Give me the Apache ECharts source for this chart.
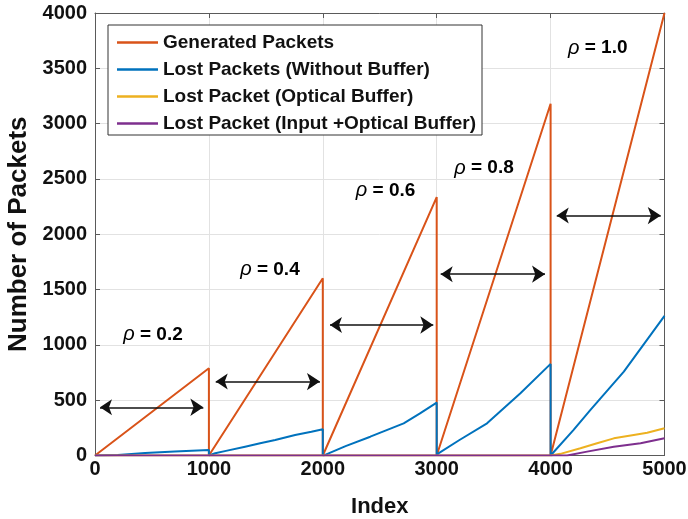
<!DOCTYPE html>
<html>
<head>
<meta charset="utf-8">
<script src="https://cdn.jsdelivr.net/npm/echarts@6/dist/echarts.min.js"></script>
<style>html,body{margin:0;padding:0;background:#fff}#c{width:688px;height:519px}</style>
</head>
<body>
<div id="c"></div>
<script>
// ---- data ----
const seriesNames = ['Generated Packets','Lost Packets (Without Buffer)','Lost Packet (Optical Buffer)','Lost Packet (Input +Optical Buffer)'];
const generatedX = [0,1000,1000,2000,2000,3000,3000,4000,4000,5000];
const generatedY = [0,789,0,1603,0,2336,0,3180,0,4000];
const noBufferX = [0,200,440,700,1000,1000,1055,1150,1318,1450,1582,1757,1900,2000,2000,2020,2200,2417,2710,2850,3000,3000,3015,3200,3442,3735,4000,4000,4013,4200,4350,4643,5000];
const noBufferY = [0,5,22,36,50,0,20,42,80,110,140,185,215,237,0,5,85,170,291,378,478,0,20,140,291,563,828,0,14,230,412,758,1262];
const opticalX = [0,4000,4086,4262,4408,4555,4730,4848,5000];
const opticalY = [0,0,15,65,110,155,185,205,246];
const inputOpticalX = [0,4145,4320,4555,4790,5000];
const inputOpticalY = [0,0,35,80,110,156];
const xTicks = [0,1000,2000,3000,4000,5000];
const yTicks = [0,500,1000,1500,2000,2500,3000,3500,4000];
// annotations (data units)
const arrowY = [436,668,1180,1639,2169];
const arrowStart = [44,1060,2063,3035,4054];
const arrowEnd = [951,1975,2970,3951,4967];
const rhoText = ['0.2','0.4','0.6','0.8','1.0'];
const rhoX = [509,1536,2551,3415,4414];
const rhoY = [1090,1678,2395,2598,3683];

const colors = ['#D95319','#0072BD','#EDB120','#7E2F8E'];
const font = 'Liberation Sans, Arial, sans-serif';
const zip = (xs, ys) => xs.map((x,i)=>[x, ys[i]]);

const chart = echarts.init(document.getElementById('c'));
const lineSeries = [
  [generatedX, generatedY],
  [noBufferX, noBufferY],
  [opticalX, opticalY],
  [inputOpticalX, inputOpticalY]
].map((d,i)=>({
  name: seriesNames[i], type:'line', data: zip(d[0], d[1]),
  showSymbol:false, symbol:'none', animation:false,
  lineStyle:{color:colors[i], width:2}, itemStyle:{color:colors[i]},
  z: 2 + i
}));

const axisLineStyle = {color:'#5a5a5a', width:1};
const option = {
  animation:false,
  grid:{left:95, right:23.5, top:13, bottom:63.5, outerBoundsMode:'none', containLabel:false},
  legend:{
    data: seriesNames.map(n=>({name:n, icon:'rect'})), orient:'vertical', left:108, top:25,
    padding:[8,6,2,9], itemGap:8, itemWidth:41, itemHeight:2.5,
    backgroundColor:'#fff', borderColor:'#333', borderWidth:1, borderRadius:0,
    textStyle:{fontFamily:font, fontWeight:'bold', fontSize:19, color:'#111'},
    selectedMode:false
  },
  xAxis:[{
    type:'value', min:0, max:5000, interval:1000,
    name:'Index', nameLocation:'middle', nameGap:40,
    nameTextStyle:{fontFamily:font, fontWeight:'bold', fontSize:22, color:'#111'},
    axisLine:{show:true, onZero:false, lineStyle:axisLineStyle},
    axisTick:{show:true, inside:true, length:5, lineStyle:axisLineStyle},
    axisLabel:{fontFamily:font, fontWeight:'bold', fontSize:20, color:'#111', margin:4,
      formatter:v=>xTicks.includes(v)?String(v):''},
    splitLine:{show:true, lineStyle:{color:'#e2e2e2', width:1}}
  },{
    type:'value', min:0, max:5000, interval:1000, position:'top',
    axisLine:{show:true, onZero:false, lineStyle:axisLineStyle},
    axisTick:{show:true, inside:true, length:5, lineStyle:axisLineStyle},
    axisLabel:{show:false}, splitLine:{show:false}
  }],
  yAxis:[{
    type:'value', min:0, max:4000, interval:500,
    name:'Number of Packets', nameLocation:'middle', nameGap:60, nameRotate:90,
    nameTextStyle:{fontFamily:font, fontWeight:'bold', fontSize:26, color:'#111'},
    axisLine:{show:true, onZero:false, lineStyle:axisLineStyle},
    axisTick:{show:true, inside:true, length:5, lineStyle:axisLineStyle},
    axisLabel:{fontFamily:font, fontWeight:'bold', fontSize:20, color:'#111', margin:8,
      formatter:v=>yTicks.includes(v)?String(v):''},
    splitLine:{show:true, lineStyle:{color:'#e2e2e2', width:1}}
  },{
    type:'value', min:0, max:4000, interval:500, position:'right',
    axisLine:{show:true, onZero:false, lineStyle:axisLineStyle},
    axisTick:{show:true, inside:true, length:5, lineStyle:axisLineStyle},
    axisLabel:{show:false}, splitLine:{show:false}
  }],
  series: lineSeries.concat([{
    name:'arrows', type:'lines', coordinateSystem:'cartesian2d', xAxisIndex:0, yAxisIndex:0,
    symbol:['arrow','arrow'], symbolSize:[12,13], animation:false, silent:true,
    lineStyle:{color:'#111', width:1.6, opacity:1, curveness:0},
    data: arrowY.map((y,i)=>({coords:[[arrowStart[i], y],[arrowEnd[i], y]]})),
    z: 10
  },{
    name:'rho', type:'scatter', symbolSize:1, itemStyle:{color:'rgba(0,0,0,0)'}, silent:true, animation:false,
    data: rhoX.map((x,i)=>({value:[x, rhoY[i]], name:rhoText[i]})),
    label:{show:true, position:'inside', color:'#000', opacity:1,
      formatter:p=>'{r|ρ}{t| = '+p.name+'}',
      rich:{
        r:{fontFamily:font, fontStyle:'italic', fontSize:20, color:'#000'},
        t:{fontFamily:font, fontWeight:'bold', fontSize:19, color:'#000'}
      }},
    z: 11
  }])
};
chart.setOption(option);
</script>
</body>
</html>
